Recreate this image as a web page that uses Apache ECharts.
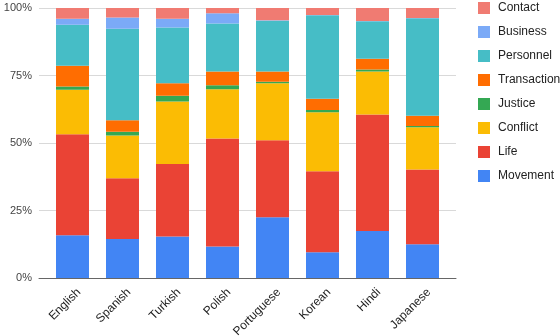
<!DOCTYPE html>
<html>
<head>
<meta charset="utf-8">
<script src="https://cdn.jsdelivr.net/npm/echarts@6/dist/echarts.min.js"></script>
<style>
  html, body { margin: 0; padding: 0; background: #fff; }
  #chart { width: 560px; height: 336px; }
</style>
</head>
<body>
<div id="chart"></div>
<script>
// 数据
var languages = ['English', 'Spanish', 'Turkish', 'Polish', 'Portuguese', 'Korean', 'Hindi', 'Japanese'];
var movement    = [15.8, 14.4, 15.4, 11.7, 22.5,  9.5, 17.4, 12.5];
var life        = [37.4, 22.5, 26.8, 40.0, 28.5, 30.0, 43.2, 27.7];
var conflict    = [16.5, 15.9, 23.2, 18.2, 21.1, 21.9, 15.9, 15.6];
var justice     = [ 1.2,  1.4,  2.1,  1.5,  0.6,  0.8,  0.7,  0.5];
var transaction = [ 7.7,  4.2,  4.6,  5.1,  3.8,  4.2,  4.0,  3.8];
var personnel   = [15.2, 33.9, 20.7, 17.8, 18.8, 30.9, 13.9, 36.1];
var business    = [ 2.2,  4.2,  3.2,  3.8,  0.2,  0.1,  0.1,  0.1];
var contact     = [ 4.0,  3.5,  4.0,  1.9,  4.5,  2.6,  4.8,  3.7];
var yTicks = [0, 25, 50, 75, 100];

var seriesList = [
    {name: 'Movement', data: movement, color: '#4285f4'},
    {name: 'Life', data: life, color: '#ea4335'},
    {name: 'Conflict', data: conflict, color: '#fbbc04'},
    {name: 'Justice', data: justice, color: '#34a853'},
    {name: 'Transaction', data: transaction, color: '#ff6d01'},
    {name: 'Personnel', data: personnel, color: '#46bdc6'},
    {name: 'Business', data: business, color: '#7baaf7'},
    {name: 'Contact', data: contact, color: '#f07b72'}
];

var myChart = echarts.init(document.getElementById('chart'));
var font = 'Arial, "Liberation Sans", sans-serif';

var option = {
    animation: false,
    textStyle: {fontFamily: font},
    // grid 0: 柱子; grid 1: 网格线和y轴
    grid: [
        {left: 47.5, right: 112.5, top: 8, bottom: 58, outerBoundsMode: 'none'},
        {left: 39, right: 104, top: 8, bottom: 58, outerBoundsMode: 'none'}
    ],
    legend: {
        orient: 'vertical',
        left: 473,
        top: -3,
        itemWidth: 12,
        itemHeight: 12,
        itemGap: 12,
        icon: 'rect',
        data: seriesList.map(function(s){ return s.name; }).reverse(),
        textStyle: {fontSize: 12, color: '#222', fontFamily: font, padding: [0, 0, 0, 3]}
    },
    xAxis: [
        {
            type: 'category',
            gridIndex: 0,
            data: languages,
            axisTick: {show: false},
            axisLine: {show: false},
            axisLabel: {rotate: 45, fontSize: 12, color: '#222', margin: 6, verticalAlign: 'top', padding: [3, 0, 0, 0], fontFamily: font}
        },
        {
            type: 'value',
            gridIndex: 1,
            min: 0,
            max: 1,
            axisLabel: {show: false},
            axisTick: {show: false},
            splitLine: {show: false},
            axisLine: {show: true, onZero: false, lineStyle: {color: '#666', width: 1}}
        }
    ],
    yAxis: [
        {
            type: 'value',
            gridIndex: 0,
            min: yTicks[0],
            max: yTicks[yTicks.length - 1],
            interval: 25,
            show: false,
            splitLine: {show: false}
        },
        {
            type: 'value',
            gridIndex: 1,
            min: yTicks[0],
            max: yTicks[yTicks.length - 1],
            interval: 25,
            axisLabel: {formatter: '{value}%', fontSize: 11, color: '#444', margin: 7, fontFamily: font},
            splitLine: {lineStyle: {color: '#d9d9d9', width: 1}},
            axisLine: {show: false},
            axisTick: {show: false}
        }
    ],
    series: seriesList.map(function(s){
        return {
            name: s.name,
            type: 'bar',
            stack: 'total',
            xAxisIndex: 0,
            yAxisIndex: 0,
            barWidth: '66%',
            data: s.data,
            itemStyle: {color: s.color}
        };
    })
};
myChart.setOption(option);
</script>
</body>
</html>
